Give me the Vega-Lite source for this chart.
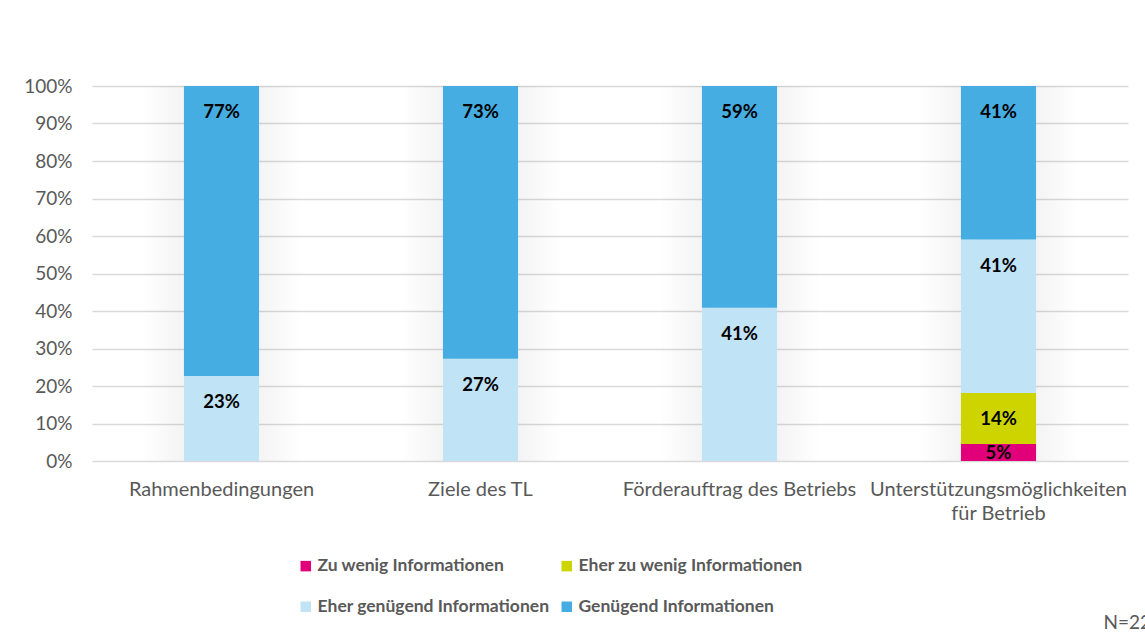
{
  "$schema": "https://vega.github.io/schema/vega-lite/v6.json",
  "width": 1036,
  "height": 375,
  "autosize": {"type": "none"},
  "padding": {"left": 92, "top": 86, "right": 17, "bottom": 174},
  "background": "white",
  "config": {
    "view": {"stroke": null},
    "font": "Lato",
    "axisY": {
      "title": null,
      "format": ".0%",
      "values": [0, 0.1, 0.2, 0.3, 0.4, 0.5, 0.6, 0.7, 0.8, 0.9, 1],
      "labelFontSize": 19,
      "labelColor": "#595959",
      "labelPadding": 20,
      "labelOverlap": false,
      "ticks": false,
      "domain": false,
      "grid": true,
      "gridColor": "#d9d9d9",
      "gridWidth": 1.5
    }
  },
  "data": {
    "values": [
      {"cat": "Rahmenbedingungen", "resp": "Zu wenig Informationen", "ord": 1, "value": 0},
      {"cat": "Rahmenbedingungen", "resp": "Eher zu wenig Informationen", "ord": 2, "value": 0},
      {"cat": "Rahmenbedingungen", "resp": "Eher genügend Informationen", "ord": 3, "value": 0.227},
      {"cat": "Rahmenbedingungen", "resp": "Genügend Informationen", "ord": 4, "value": 0.773},
      {"cat": "Ziele des TL", "resp": "Zu wenig Informationen", "ord": 1, "value": 0},
      {"cat": "Ziele des TL", "resp": "Eher zu wenig Informationen", "ord": 2, "value": 0},
      {"cat": "Ziele des TL", "resp": "Eher genügend Informationen", "ord": 3, "value": 0.273},
      {"cat": "Ziele des TL", "resp": "Genügend Informationen", "ord": 4, "value": 0.727},
      {"cat": "Förderauftrag des Betriebs", "resp": "Zu wenig Informationen", "ord": 1, "value": 0},
      {"cat": "Förderauftrag des Betriebs", "resp": "Eher zu wenig Informationen", "ord": 2, "value": 0},
      {"cat": "Förderauftrag des Betriebs", "resp": "Eher genügend Informationen", "ord": 3, "value": 0.409},
      {"cat": "Förderauftrag des Betriebs", "resp": "Genügend Informationen", "ord": 4, "value": 0.591},
      {"cat": "Unterstützungsmöglichkeiten für Betrieb", "resp": "Zu wenig Informationen", "ord": 1, "value": 0.0455},
      {"cat": "Unterstützungsmöglichkeiten für Betrieb", "resp": "Eher zu wenig Informationen", "ord": 2, "value": 0.136},
      {"cat": "Unterstützungsmöglichkeiten für Betrieb", "resp": "Eher genügend Informationen", "ord": 3, "value": 0.409},
      {"cat": "Unterstützungsmöglichkeiten für Betrieb", "resp": "Genügend Informationen", "ord": 4, "value": 0.4095}
    ]
  },
  "transform": [
    {"stack": "value", "groupby": ["cat"], "sort": [{"field": "ord", "order": "ascending"}], "as": ["y0", "y1"]}
  ],
  "encoding": {
    "x": {
      "field": "cat",
      "type": "nominal",
      "sort": null,
      "scale": {"paddingInner": 0, "paddingOuter": 0},
      "axis": {
        "title": null,
        "labelAngle": 0,
        "labelFontSize": 20,
        "labelColor": "#595959",
        "labelPadding": 18,
        "labelLineHeight": 24,
        "labelLimit": 400,
        "ticks": false,
        "domain": false,
        "labelExpr": "datum.value == 'Unterstützungsmöglichkeiten für Betrieb' ? ['Unterstützungsmöglichkeiten', 'für Betrieb'] : datum.label"
      }
    }
  },
  "layer": [
    {
      "transform": [{"filter": "datum.ord == 4"}],
      "mark": {
        "type": "bar",
        "width": {"band": 0.62},
        "fill": {
          "gradient": "linear",
          "x1": 0, "y1": 0, "x2": 1, "y2": 0,
          "stops": [
            {"offset": 0, "color": "rgba(0,0,0,0)"},
            {"offset": 0.35, "color": "rgba(0,0,0,0.06)"},
            {"offset": 0.5, "color": "rgba(0,0,0,0.08)"},
            {"offset": 0.65, "color": "rgba(0,0,0,0.06)"},
            {"offset": 1, "color": "rgba(0,0,0,0)"}
          ]
        }
      },
      "encoding": {
        "y": {"datum": 0, "type": "quantitative", "scale": {"domain": [0, 1], "nice": false}},
        "y2": {"datum": 1}
      }
    },
    {
      "mark": {"type": "bar", "width": {"band": 0.29}},
      "encoding": {
        "y": {
          "field": "y0",
          "type": "quantitative",
          "scale": {"domain": [0, 1], "nice": false}
        },
        "y2": {"field": "y1"},
        "color": {
          "field": "resp",
          "type": "nominal",
          "sort": ["Zu wenig Informationen", "Eher zu wenig Informationen", "Eher genügend Informationen", "Genügend Informationen"],
          "scale": {
            "domain": ["Zu wenig Informationen", "Eher zu wenig Informationen", "Eher genügend Informationen", "Genügend Informationen"],
            "range": ["#e2007a", "#cdd400", "#c0e3f5", "#45ade2"]
          },
          "legend": {
            "title": null,
            "orient": "none",
            "legendX": 205,
            "legendY": 471,
            "columns": 2,
            "direction": "horizontal",
            "symbolType": "square",
            "symbolSize": 110,
            "symbolStrokeWidth": 0,
            "labelFontSize": 17.5,
            "labelFontWeight": "bold",
            "labelColor": "#595959",
            "labelOffset": 3,
            "labelLimit": 400,
            "columnPadding": 8,
            "rowPadding": 22
          }
        }
      }
    },
    {
      "transform": [{"filter": "datum.value >= 0.1"}],
      "mark": {"type": "text", "baseline": "middle", "dy": 26, "fontSize": 18.5, "fontWeight": "bold", "color": "black"},
      "encoding": {
        "y": {"field": "y1", "type": "quantitative"},
        "text": {"field": "value", "type": "quantitative", "format": ".0%"}
      }
    },
    {
      "transform": [{"filter": "datum.value > 0 && datum.value < 0.1"}],
      "mark": {"type": "text", "baseline": "middle", "dy": -8, "fontSize": 18.5, "fontWeight": "bold", "color": "black"},
      "encoding": {
        "y": {"field": "y0", "type": "quantitative"},
        "text": {"field": "value", "type": "quantitative", "format": ".0%"}
      }
    },
    {
      "data": {"values": [{"note": "N=22", "cat": "Unterstützungsmöglichkeiten für Betrieb", "pos": -0.432}]},
      "mark": {"type": "text", "align": "left", "baseline": "middle", "dx": 105, "fontSize": 19, "color": "#595959", "clip": false},
      "encoding": {
        "y": {"field": "pos", "type": "quantitative"},
        "text": {"field": "note", "type": "nominal"}
      }
    }
  ]
}
